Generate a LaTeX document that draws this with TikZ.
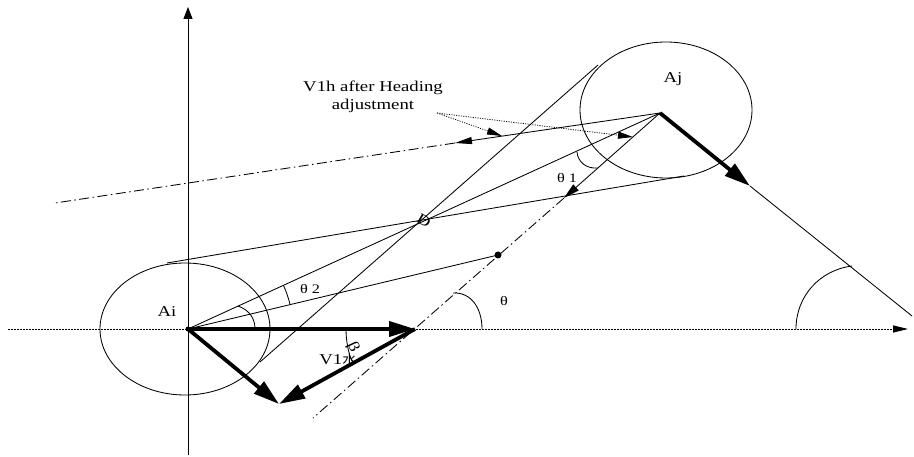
\documentclass[tikz,border=0pt]{standalone}
\usepackage{fontspec}
\setmainfont{Liberation Serif}[FakeStretch=1.25]
\newfontfamily\cjk{Noto Sans CJK SC}[FakeStretch=1.1]
\usetikzlibrary{arrows.meta}
\begin{document}
\begin{tikzpicture}[x=1pt,y=-1pt,
  thinline/.style={line width=0.85pt},
  heavy/.style={line width=3.8pt,-{Triangle[length=26pt,width=15pt]}},
  dashdot/.style={line width=0.85pt,dash pattern=on 10pt off 3.5pt on 1.5pt off 3.5pt},
  axisdot/.style={line width=0.85pt,dash pattern=on 1.6pt off 1.4pt},
  leader/.style={line width=0.75pt,dash pattern=on 1.1pt off 1.3pt,-{Triangle[length=15pt,width=7pt]}},
  lbl/.style={inner sep=0pt,font=\fontsize{15}{18}\selectfont},
  small/.style={inner sep=0pt,font=\fontsize{13}{15}\selectfont}]
\useasboundingbox (0,0) rectangle (914,457);
% key points
\coordinate (Ai) at (188,329);
\coordinate (Aj) at (660,113);
\coordinate (H) at (415,329);
\coordinate (R) at (279,404);
\coordinate (AjV) at (750,186);
\coordinate (AjEnd) at (912,316);
\coordinate (P) at (498,255);
\coordinate (T1) at (564,198);
\coordinate (B) at (313,418);
\coordinate (V) at (455,143);
\coordinate (L) at (55,203);
\coordinate (S) at (437,113);
\coordinate (LT1) at (502,136);
\coordinate (LT2) at (633,137);
\coordinate (Xl) at (8,329);
\coordinate (Xr) at (908,329);
\coordinate (Yb) at (188,455);
\coordinate (Yt) at (188,7);
\coordinate (Ta) at (167,263);
\coordinate (Tb) at (684,176);
\coordinate (Tc) at (260,362);
\coordinate (Td) at (598,65);
% axes
\draw[axisdot,-{Triangle[length=15pt,width=7pt]}] (Xl) -- (Xr);
\draw[thinline,-{Triangle[length=12pt,width=9pt]}] (Yb) -- (Yt);
% ellipses
\draw[thinline] (185,329) ellipse [x radius=85, y radius=66];
\draw[thinline] (666,110) ellipse [x radius=86, y radius=68];
% cross lines
\draw[thinline] (Ta) -- (Tb);
\draw[thinline] (Tc) -- (Td);
\draw[thinline] (Ai) -- (Aj);
\draw[thinline] (Ai) -- (P);
% dash-dot lines
\draw[dashdot] (T1) -- (B);
\draw[dashdot] (V) -- (L);
\draw[thinline,-{Triangle[length=16pt,width=8pt]}] (Aj) -- (T1);
\draw[thinline,-{Triangle[length=17pt,width=7pt]}] (Aj) -- (V);
\fill (P) circle (3.5);
\fill (Ai) circle (2.5);
% Aj velocity
\draw[heavy] (Aj) -- (AjV);
\draw[thinline] (AjV) -- (AjEnd);
% Ai vectors
\draw[heavy] (Ai) -- (H);
\draw[heavy] (Ai) -- (R);
\draw[heavy] (H) -- (R);
% angle arcs
\draw[thinline] (255,329) .. controls (255,318) and (249,310) .. (238,306);
\draw[thinline] (290.1,304.7) arc[start angle=-13.4, end angle=-24.5, radius=105];
\draw[thinline] (577,152) .. controls (578,162) and (586,169) .. (598,168);
\draw[thinline] (453,293) .. controls (471,292) and (482,308) .. (482,329);
\draw[thinline] (796,329) .. controls (796,296) and (820,270) .. (852,266);
\draw[thinline] (346,329) .. controls (346,340) and (348,352) .. (352,361);
% leaders
\draw[leader] (S) -- (LT1);
\draw[leader] (S) -- (LT2);
% labels
\node[lbl,align=center] (hdg) at (373,97) {V1h after Heading\\adjustment};
\node[lbl] (ai) at (167,312) {Ai};
\node[lbl] (aj) at (673,79) {Aj};
\node[small] (th1) at (567,178) {θ 1};
\node[small] (th2) at (310,289) {θ 2};
\node[small] (th) at (504,301) {θ};
\node[lbl,rotate=-30] (d) at (424,221) {D};
\node[lbl,rotate=-65] (beta) at (353,347) {β};
\node[lbl] (v1) at (338,360) {V1{\cjk\fontsize{13}{14}\selectfont 水}};
\end{tikzpicture}
\end{document}
